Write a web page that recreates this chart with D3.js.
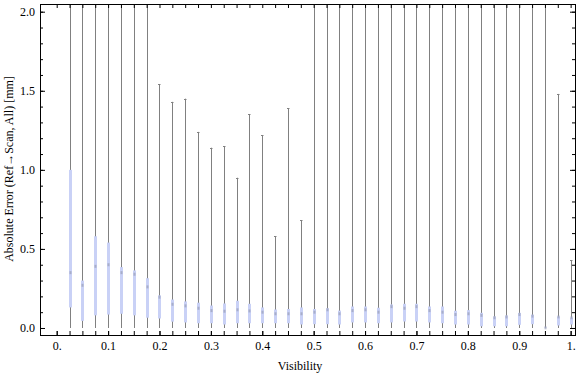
<!DOCTYPE html>
<html>
<head>
<meta charset="utf-8">
<script src="https://cdn.jsdelivr.net/npm/d3@7"></script>
<style>
  body { margin: 0; background: #fff; }
  svg { display: block; }
</style>
</head>
<body>
<svg id="chart"></svg>
<script>
// box-whisker chart: abs error vs visibility

const visibility = [0.025, 0.05, 0.075, 0.1, 0.125, 0.15, 0.175, 0.2, 0.225, 0.25,
  0.275, 0.3, 0.325, 0.35, 0.375, 0.4, 0.425, 0.45, 0.475, 0.5,
  0.525, 0.55, 0.575, 0.6, 0.625, 0.65, 0.675, 0.7, 0.725, 0.75,
  0.775, 0.8, 0.825, 0.85, 0.875, 0.9, 0.925, 0.95, 0.975, 1.0]

const whiskerLo = [0, 0, 0, 0, 0, 0, 0, 0, 0, 0,
  0, 0, 0, 0, 0, 0, 0, 0, 0, 0,
  0, 0, 0, 0, 0, 0, 0, 0, 0, 0,
  0, 0, 0, 0, 0, 0, 0, 0, 0, 0]

const q1 = [0.13, 0.045, 0.08, 0.085, 0.09, 0.08, 0.065, 0.06, 0.04, 0.035,
  0.03, 0.03, 0.022, 0.03, 0.03, 0.03, 0.03, 0.03, 0.022, 0.024,
  0.024, 0.022, 0.035, 0.035, 0.03, 0.035, 0.041, 0.041, 0.035, 0.03,
  0.022, 0.022, 0.011, 0.011, 0.011, 0.02, 0.024, 0.0, 0.016, 0.022]

const median = [0.35, 0.27, 0.39, 0.40, 0.35, 0.34, 0.26, 0.195, 0.15, 0.14,
  0.125, 0.11, 0.106, 0.115, 0.108, 0.10, 0.09, 0.09, 0.09, 0.10,
  0.115, 0.09, 0.11, 0.115, 0.10, 0.135, 0.125, 0.135, 0.11, 0.10,
  0.085, 0.09, 0.08, 0.065, 0.07, 0.085, 0.075, 0.001, 0.07, 0.065]

const q3 = [1.0, 0.30, 0.58, 0.54, 0.385, 0.364, 0.315, 0.206, 0.18, 0.168,
  0.16, 0.142, 0.155, 0.172, 0.153, 0.13, 0.117, 0.12, 0.13, 0.12,
  0.125, 0.11, 0.136, 0.136, 0.128, 0.149, 0.153, 0.153, 0.136, 0.136,
  0.109, 0.113, 0.096, 0.073, 0.079, 0.096, 0.084, 0.003, 0.073, 0.066]

const whiskerHi = [3, 3, 3, 3, 3, 3, 3, 1.54, 1.43, 1.45,
  1.24, 1.14, 1.15, 0.95, 1.35, 1.22, 0.58, 1.39, 0.68, 3,
  3, 3, 3, 3, 3, 3, 3, 3, 3, 3,
  3, 3, 3, 3, 3, 3, 3, 3, 1.48, 0.43]

const xMajor = [0, 0.1, 0.2, 0.3, 0.4, 0.5, 0.6, 0.7, 0.8, 0.9, 1.0]
const xMajorLabels = ["0.", "0.1", "0.2", "0.3", "0.4", "0.5", "0.6", "0.7", "0.8", "0.9", "1."]
const xMinor = [0, 0.025, 0.05, 0.075, 0.1, 0.125, 0.15, 0.175, 0.2, 0.225, 0.25,
  0.275, 0.3, 0.325, 0.35, 0.375, 0.4, 0.425, 0.45, 0.475, 0.5,
  0.525, 0.55, 0.575, 0.6, 0.625, 0.65, 0.675, 0.7, 0.725, 0.75,
  0.775, 0.8, 0.825, 0.85, 0.875, 0.9, 0.925, 0.95, 0.975, 1.0]
const yMajor = [0, 0.5, 1.0, 1.5, 2.0]
const yMajorLabels = ["0.0", "0.5", "1.0", "1.5", "2.0"]
const yMinor = [0, 0.1, 0.2, 0.3, 0.4, 0.5, 0.6, 0.7, 0.8, 0.9, 1.0,
  1.1, 1.2, 1.3, 1.4, 1.5, 1.6, 1.7, 1.8, 1.9, 2.0]

const data = visibility.map((v, i) => ({
  v: v, lo: whiskerLo[i], q1: q1[i], med: median[i], q3: q3[i], hi: whiskerHi[i]
}))

const W = 576, H = 375
const mLeft = 40, mRight = 575, mTop = 4, mBottom = 335
const font = "'Liberation Serif', 'Times New Roman', serif"

const svg = d3.select("#chart").attr("width", W).attr("height", H)

const x = d3.scaleLinear().domain([-0.0325, 1.0085]).range([mLeft, mRight])
const y = d3.scaleLinear().domain([-0.0443, 2.0487]).range([mBottom, mTop])

svg.append("clipPath").attr("id", "plot")
  .append("rect")
  .attr("x", mLeft).attr("y", mTop)
  .attr("width", mRight - mLeft).attr("height", mBottom - mTop)

const px = d => Math.round(x(d)) + 0.5

const plot = svg.append("g").attr("clip-path", "url(#plot)")

// whiskers
plot.selectAll("line.whisk")
  .data(data)
  .enter()
  .append("line")
  .attr("class", "whisk")
  .attr("x1", d => px(d.v)).attr("x2", d => px(d.v))
  .attr("y1", d => y(d.lo)).attr("y2", d => y(d.hi))
  .attr("stroke", "#808080")
  .attr("stroke-width", 1)

// caps
plot.selectAll("line.cap")
  .data(data.filter(d => d.hi < 2))
  .enter()
  .append("line")
  .attr("x1", d => px(d.v) - 1.5).attr("x2", d => px(d.v) + 1)
  .attr("y1", d => Math.round(y(d.hi)) + 0.5).attr("y2", d => Math.round(y(d.hi)) + 0.5)
  .attr("stroke", "#808080")

// boxes
plot.selectAll("rect.box")
  .data(data)
  .enter()
  .append("rect")
  .attr("class", "box")
  .attr("x", d => px(d.v) - 1.5)
  .attr("width", 3)
  .attr("y", d => y(d.q3))
  .attr("height", d => Math.max(y(d.q1) - y(d.q3), 0))
  .attr("fill", "#c9d1f6")

// medians
plot.selectAll("rect.med")
  .data(data)
  .enter()
  .append("rect")
  .attr("x", d => px(d.v) - 1)
  .attr("width", 2)
  .attr("y", d => y(d.med) - 1.5)
  .attr("height", 3)
  .attr("fill", "#9aa0b8")
  .attr("opacity", 0.7)

// axes, ticks pointing inward
function styleAxis(g) {
  g.select(".domain").remove()
  g.selectAll("line").attr("stroke", "#000")
  g.selectAll("text").attr("font-family", font).attr("font-size", 12).attr("fill", "#000")
}

svg.append("g").attr("transform", `translate(0,${mBottom})`)
  .call(d3.axisBottom(x).tickValues(xMinor).tickSize(-4).tickFormat(""))
  .call(styleAxis)
svg.append("g").attr("transform", `translate(0,${mBottom})`)
  .call(d3.axisBottom(x).tickValues(xMajor).tickSize(-4).tickPadding(6.5)
    .tickFormat((d, i) => xMajorLabels[i]))
  .call(styleAxis)
svg.append("g").attr("transform", `translate(0,${mTop})`)
  .call(d3.axisTop(x).tickValues(xMinor).tickSize(-4).tickFormat(""))
  .call(styleAxis)

svg.append("g").attr("transform", `translate(${mLeft},0)`)
  .call(d3.axisLeft(y).tickValues(yMinor).tickSize(-3).tickFormat(""))
  .call(styleAxis)
svg.append("g").attr("transform", `translate(${mLeft},0)`)
  .call(d3.axisLeft(y).tickValues(yMajor).tickSize(-5).tickPadding(5)
    .tickFormat((d, i) => yMajorLabels[i]))
  .call(styleAxis)
svg.append("g").attr("transform", `translate(${mRight},0)`)
  .call(d3.axisRight(y).tickValues(yMinor).tickSize(-3).tickFormat(""))
  .call(styleAxis)
svg.append("g").attr("transform", `translate(${mRight},0)`)
  .call(d3.axisRight(y).tickValues(yMajor).tickSize(-5).tickFormat(""))
  .call(styleAxis)

// frame
svg.append("rect")
  .attr("x", mLeft + 0.5).attr("y", mTop + 0.5)
  .attr("width", mRight - mLeft).attr("height", mBottom - mTop)
  .attr("fill", "none")
  .attr("stroke", "#000")

svg.append("text")
  .text("Visibility")
  .attr("x", 300).attr("y", 370)
  .attr("text-anchor", "middle")
  .attr("font-family", font).attr("font-size", 12)

svg.append("text")
  .text("Absolute Error (Ref\u2192Scan, All) [mm]")
  .attr("transform", "translate(13,169) rotate(-90)")
  .attr("text-anchor", "middle")
  .attr("font-family", font).attr("font-size", 12)
</script>
</body>
</html>
